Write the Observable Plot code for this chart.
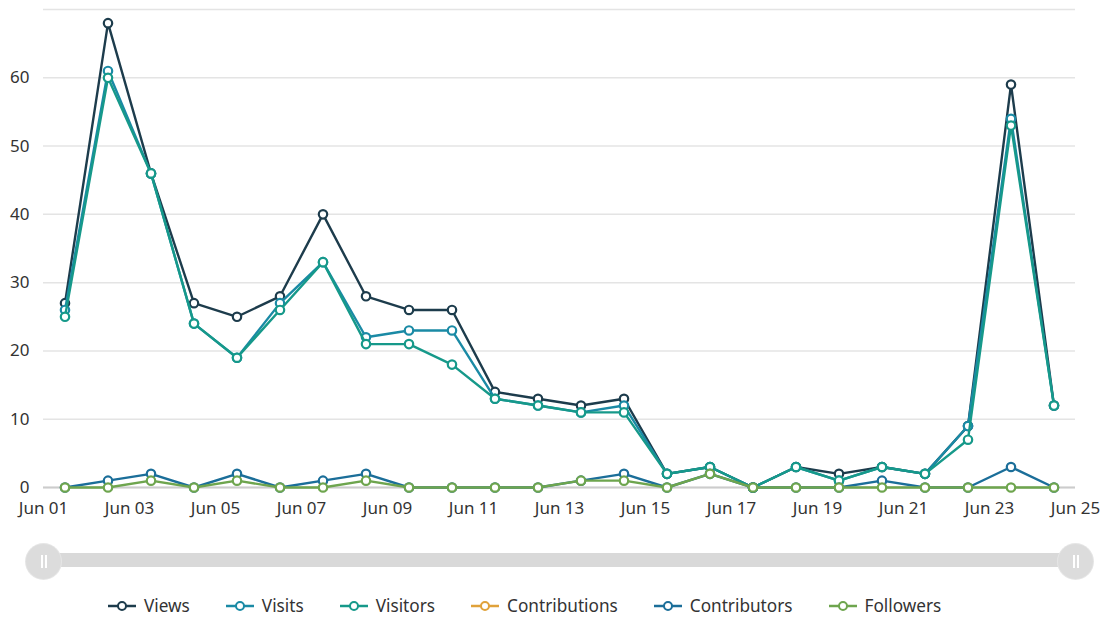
<!DOCTYPE html>
<html><head><meta charset="utf-8">
<script src="https://cdn.jsdelivr.net/npm/d3@7"></script>
<script src="https://cdn.jsdelivr.net/npm/@observablehq/plot@0.6"></script>
<style>
body{margin:0;background:#fff;font-family:"Noto Sans",sans-serif;}
#wrap{position:relative;width:1111px;height:617px;overflow:hidden;}
#chart{position:absolute;left:0;top:0;}
#bar{position:absolute;left:44px;top:553px;width:1031px;height:14px;background:#d9d9d9;}
.handle{position:absolute;top:544px;width:35px;height:35px;border-radius:50%;background:#dcdcdc;box-shadow:0 0 0 1px #e6e6e6;}
.handle::before,.handle::after{content:"";position:absolute;top:11px;width:1.5px;height:13px;background:#fff;}
.handle::before{left:15px;}
.handle::after{left:19px;}
#legend{position:absolute;left:107px;top:594px;display:flex;align-items:center;font-size:17.2px;color:#333;white-space:nowrap;}
.item{display:flex;align-items:center;margin-right:35px;}
.item svg{margin-right:7px;}
</style></head><body>
<div id="wrap">
<div id="chart"></div>
<div id="bar"></div>
<div class="handle" style="left:26px"></div>
<div class="handle" style="left:1058px"></div>
<div id="legend"></div>
</div>
<script>
const days = ["2023-06-01","2023-06-02","2023-06-03","2023-06-04","2023-06-05","2023-06-06","2023-06-07","2023-06-08","2023-06-09","2023-06-10","2023-06-11","2023-06-12","2023-06-13","2023-06-14","2023-06-15","2023-06-16","2023-06-17","2023-06-18","2023-06-19","2023-06-20","2023-06-21","2023-06-22","2023-06-23","2023-06-24"];
const views         = [27,68,46,27,25,28,40,28,26,26,14,13,12,13,2,3,0,3,2,3,2,9,59,12];
const visits        = [26,61,46,24,19,27,33,22,23,23,13,12,11,12,2,3,0,3,1,3,2,9,54,12];
const visitors      = [25,60,46,24,19,26,33,21,21,18,13,12,11,11,2,3,0,3,1,3,2,7,53,12];
const contributions = [null,null,null,null,null,null,null,null,null,null,null,null,null,null,null,null,null,null,null,null,null,null,null,null];
const contributors  = [0,1,2,0,2,0,1,2,0,0,0,0,1,2,0,2,0,0,0,1,0,0,3,0];
const followers     = [0,0,1,0,1,0,0,1,0,0,0,0,1,1,0,2,0,0,0,0,0,0,0,0];

const seriesNames  = ["Views","Visits","Visitors","Contributions","Contributors","Followers"];
const seriesValues = [views, visits, visitors, contributions, contributors, followers];
const seriesColors = ["#1d3c4c","#1a8aa5","#16998a","#e0a23a","#1b6e99","#6ea54e"];

const yGrid  = [0,10,20,30,40,50,60,70];
const yTicks = [0,10,20,30,40,50,60];
const xStart = "2023-06-01", xEnd = "2023-06-25";
const xTickDays = ["2023-06-01","2023-06-03","2023-06-05","2023-06-07","2023-06-09","2023-06-11","2023-06-13","2023-06-15","2023-06-17","2023-06-19","2023-06-21","2023-06-23","2023-06-25"];

const noon = s => new Date(s + "T12:00:00Z");
const midnight = s => new Date(s + "T00:00:00Z");

const marks = [
  Plot.gridY(yGrid, {stroke:"#e4e4e4", strokeOpacity:1, strokeWidth:1.5}),
  Plot.ruleY([0], {stroke:"#cccccc", strokeWidth:2}),
  Plot.axisY(yTicks, {tickSize:0, tickPadding:14, fill:"#333", label:null, fontSize:17}),
  Plot.axisX(xTickDays.map(midnight), {tickSize:0, tickPadding:14, fill:"#333", label:null, fontSize:17, tickFormat:d3.utcFormat("%b %d")})
];
seriesNames.forEach((name, i) => {
  const rows = days.map((d, j) => ({date: noon(d), value: seriesValues[i][j], series: name}))
                   .filter(r => r.value != null);
  if (!rows.length) return;
  marks.push(Plot.line(rows, {x:"date", y:"value", stroke:seriesColors[i], strokeWidth:2.4}));
  marks.push(Plot.dot(rows, {x:"date", y:"value", r:4.2, fill:"white", stroke:seriesColors[i], strokeWidth:2.2}));
});

const chart = Plot.plot({
  width:1111, height:525,
  marginTop:9, marginBottom:38, marginLeft:43, marginRight:36,
  style:{fontFamily:"'Noto Sans', sans-serif", fontSize:"17px", color:"#333", background:"transparent"},
  x:{type:"utc", domain:[midnight(xStart), midnight(xEnd)]},
  y:{domain:[0,70]},
  marks
});
document.getElementById("chart").appendChild(chart);

const legend = document.getElementById("legend");
seriesNames.forEach((name, i) => {
  const item = document.createElement("div");
  item.className = "item";
  item.innerHTML = `<svg width="30" height="12"><line x1="1" y1="6" x2="29" y2="6" stroke="${seriesColors[i]}" stroke-width="2.5"/><circle cx="15" cy="6" r="4" fill="white" stroke="${seriesColors[i]}" stroke-width="2"/></svg><span>${name}</span>`;
  legend.appendChild(item);
});
</script>
</body></html>
